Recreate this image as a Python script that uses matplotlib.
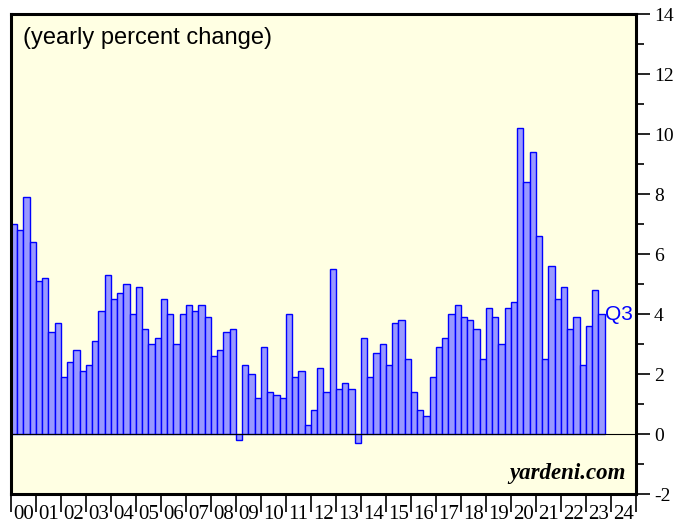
import numpy as np
from matplotlib import pyplot as plt
from matplotlib.ticker import FixedLocator, NullFormatter

FIRST_YEAR = 2000
LAST_YEAR = 2024

# Quarterly values, 2000 Q1 .. 2023 Q3 (yearly percent change)
VALUES_2000_2005 = [7.0, 6.8, 7.9, 6.4, 5.1, 5.2, 3.4, 3.7, 1.9, 2.4, 2.8, 2.1,
                    2.3, 3.1, 4.1, 5.3, 4.5, 4.7, 5.0, 4.0, 4.9, 3.5, 3.0, 3.2]
VALUES_2006_2011 = [4.5, 4.0, 3.0, 4.0, 4.3, 4.1, 4.3, 3.9, 2.6, 2.8, 3.4, 3.5,
                    -0.2, 2.3, 2.0, 1.2, 2.9, 1.4, 1.3, 1.2, 4.0, 1.9, 2.1, 0.3]
VALUES_2012_2017 = [0.8, 2.2, 1.4, 5.5, 1.5, 1.7, 1.5, -0.3, 3.2, 1.9, 2.7, 3.0,
                    2.3, 3.7, 3.8, 2.5, 1.4, 0.8, 0.6, 1.9, 2.9, 3.2, 4.0, 4.3]
VALUES_2018_2023 = [3.9, 3.8, 3.5, 2.5, 4.2, 3.9, 3.0, 4.2, 4.4, 10.2, 8.4, 9.4,
                    6.6, 2.5, 5.6, 4.5, 4.9, 3.5, 3.9, 2.3, 3.6, 4.8, 4.0]

YEAR_LABELS = [f'{y % 100:02d}' for y in range(FIRST_YEAR, LAST_YEAR + 1)]
Y_TICKS = [-2, 0, 2, 4, 6, 8, 10, 12, 14]
LAST_QUARTER_LABEL = 'Q3'

BG_COLOR = '#ffffe3'
BAR_FILL = '#9999ff'
BAR_EDGE = '#0000ff'


def build_series():
    values = VALUES_2000_2005 + VALUES_2006_2011 + VALUES_2012_2017 + VALUES_2018_2023
    x = FIRST_YEAR + 0.25 * np.arange(len(values))
    return x, np.array(values)


def create_plot(x, values):
    fig = plt.figure(figsize=(6.9, 5.27), dpi=100)
    ax = fig.add_axes([0.0159, 0.0626, 0.9058, 0.9099])
    ax.set_facecolor(BG_COLOR)

    ax.bar(x, values, width=0.25, align='edge', color=BAR_FILL,
           edgecolor=BAR_EDGE, linewidth=1.0, zorder=2)
    ax.axhline(0, color='black', linewidth=0.8, zorder=3)

    ax.set_xlim(FIRST_YEAR, LAST_YEAR + 1)
    ax.set_ylim(-2, 14)

    # Frame
    for side in ax.spines.values():
        side.set_linewidth(2.2)

    # Right axis ticks
    ax.yaxis.tick_right()
    ax.set_yticks(Y_TICKS)
    ax.set_yticklabels([str(t) for t in Y_TICKS], family='Liberation Serif',
                       fontsize=14)
    ax.yaxis.set_minor_locator(FixedLocator(np.arange(-1, 14, 2)))
    ax.tick_params(axis='y', which='major', length=10, width=1.2, pad=3)
    ax.tick_params(axis='y', which='minor', length=6, width=1.2)

    # Year ticks at year boundaries, labels centred in each year
    ax.xaxis.set_major_locator(FixedLocator(np.arange(FIRST_YEAR, LAST_YEAR + 2)))
    ax.xaxis.set_major_formatter(NullFormatter())
    ax.xaxis.set_minor_locator(FixedLocator(np.arange(FIRST_YEAR, LAST_YEAR + 1) + 0.5))
    ax.set_xticklabels(YEAR_LABELS, minor=True, family='Liberation Serif',
                       fontsize=15)
    ax.tick_params(axis='x', which='major', length=13, width=1.2)
    ax.tick_params(axis='x', which='minor', length=0, pad=8)

    # Annotations
    ax.text(0.02, 0.95, '(yearly percent change)', transform=ax.transAxes,
            family='Liberation Sans', fontsize=17, ha='left', va='center')
    ax.text(0.984, 0.02, 'yardeni.com', transform=ax.transAxes,
            family='Liberation Serif', fontsize=16.5, fontweight='bold',
            fontstyle='italic', ha='right', va='bottom')
    ax.text(x[-1] + 0.27, values[-1], LAST_QUARTER_LABEL, color=BAR_EDGE,
            family='Liberation Sans', fontsize=15, ha='left', va='center')
    return fig


def main():
    x, values = build_series()
    fig = create_plot(x, values)
    fig.savefig('out.png', dpi=100, facecolor='white')


main()
